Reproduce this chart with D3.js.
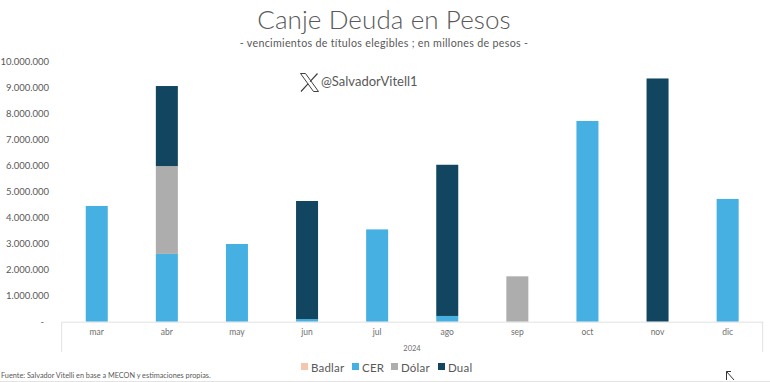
<!DOCTYPE html>
<html>
<head>
<meta charset="utf-8">
<script src="https://cdn.jsdelivr.net/npm/d3@7"></script>
<style>
  html, body { margin: 0; padding: 0; background: #fff; }
  svg { display: block; }
  text { font-family: Lato, sans-serif; }
</style>
</head>
<body>
<div id="chart"></div>
<script>
const months = ['mar', 'abr', 'may', 'jun', 'jul', 'ago', 'sep', 'oct', 'nov', 'dic']
const seriesNames = ['Badlar', 'CER', 'Dólar', 'Dual']
const badlar = [0, 0, 0, 0, 0, 0, 0, 0, 0, 0]
const cer = [4440000, 2600000, 2980000, 100000, 3540000, 220000, 0, 7700000, 0, 4710000]
const dolar = [0, 3370000, 0, 0, 0, 0, 1740000, 0, 0, 0]
const dual = [0, 3070000, 0, 4530000, 0, 5800000, 0, 0, 9330000, 0]
const yTicks = [0, 1000000, 2000000, 3000000, 4000000, 5000000, 6000000, 7000000, 8000000, 9000000, 10000000]
const colors = ['#f4c6ad', '#45b0e1', '#adadad', '#124660']

const width = 770
const height = 382
const svg = d3.select('#chart').append('svg').attr('width', width).attr('height', height)

const x = d3.scaleBand().domain(months).range([61.7, 762.7]).paddingInner(0.686).paddingOuter(0.343)
const y = d3.scaleLinear().domain([0, 10000000]).range([321.7, 61])

const rows = months.map((m, i) => ({ month: m, Badlar: badlar[i], CER: cer[i], 'Dólar': dolar[i], Dual: dual[i] }))
const stacked = d3.stack().keys(seriesNames)(rows)

svg.append('g')
  .selectAll('g')
  .data(stacked)
  .join('g')
  .attr('fill', (d, i) => colors[i])
  .selectAll('rect')
  .data((d) => d)
  .join('rect')
  .attr('x', (d) => x(d.data.month))
  .attr('width', x.bandwidth())
  .attr('y', (d) => y(d[1]))
  .attr('height', (d) => y(d[0]) - y(d[1]))

// y axis, only the labels are visible
const yAxis = svg.append('g')
  .attr('transform', 'translate(49,0)')
  .call(d3.axisLeft(y).tickValues(yTicks).tickSize(0).tickPadding(0)
    .tickFormat((d) => (d === 0 ? '-' : d3.format(',')(d).replace(/,/g, '.'))))
yAxis.select('.domain').remove()
yAxis.selectAll('text').attr('font-size', 9.5).attr('fill', '#595959').style('font-family', 'Lato, sans-serif')
yAxis.select('.tick text').attr('dx', -5)

// x axis with the year level below it
const xAxis = svg.append('g')
  .attr('transform', 'translate(0,321.7)')
  .call(d3.axisBottom(x).tickSize(0).tickPadding(7))
xAxis.select('.domain').attr('stroke', '#e1e1e1').attr('stroke-width', 1)
xAxis.selectAll('text').attr('font-size', 8.5).attr('fill', '#6f6f6f').style('font-family', 'Lato, sans-serif')

svg.append('g')
  .selectAll('line')
  .data(x.range())
  .join('line')
  .attr('x1', (d) => d)
  .attr('x2', (d) => d)
  .attr('y1', 321.7)
  .attr('y2', 352)
  .attr('stroke', '#e1e1e1')

svg.append('text').attr('x', 412).attr('y', 351).attr('text-anchor', 'middle')
  .attr('font-size', 7.5).attr('fill', '#6f6f6f').text('2024')

svg.append('text').attr('x', 384).attr('y', 29).attr('text-anchor', 'middle')
  .attr('font-size', 26).attr('font-weight', 300).attr('letter-spacing', 0.1).attr('fill', '#595959').text('Canje Deuda en Pesos')
svg.append('text').attr('x', 384).attr('y', 47).attr('text-anchor', 'middle')
  .attr('font-size', 10.7).attr('letter-spacing', 0.3).attr('fill', '#595959')
  .text('- vencimientos de títulos elegibles ; en millones de pesos -')

// X logo
const logo = svg.append('g').attr('transform', 'translate(300,73)')
  .attr('fill', 'none').attr('stroke', '#404040')
logo.append('path').attr('stroke-width', 1).attr('d', 'M0.5,0.5 H5.5 L18.5,18.5 H13.5 Z')
logo.append('path').attr('stroke-width', 1.2).attr('d', 'M17.5,0.5 L10,8.7 M8.2,10.6 L1,18.5')
svg.append('text').attr('x', 321).attr('y', 85.5).attr('font-size', 13).attr('fill', '#595959').text('@SalvadorVitell1')

// legend
const legendX = [301, 352, 391, 438]
const legend = svg.append('g')
  .selectAll('g')
  .data(seriesNames)
  .join('g')
  .attr('transform', (d, i) => `translate(${legendX[i]},363)`)
legend.append('rect').attr('width', 7).attr('height', 7).attr('fill', (d, i) => colors[i])
legend.append('text').attr('x', 10).attr('y', 8.5).attr('font-size', 11.5).attr('letter-spacing', 0.2)
  .attr('fill', '#595959').text((d) => d)

svg.append('text').attr('x', 1).attr('y', 378).attr('font-size', 7.3).attr('fill', '#595959')
  .text('Fuente: Salvador Vitelli en base a MECON y estimaciones propias.')

// strip along the bottom and the mouse pointer caught in the capture
svg.append('line').attr('x1', 0).attr('x2', width).attr('y1', 381.5).attr('y2', 381.5).attr('stroke', '#e3e3e3')
svg.append('path').attr('d', 'M726.5,371.5 V380 M726.5,371.5 H731 M726.5,371.5 L734,380')
  .attr('fill', 'none').attr('stroke', '#333').attr('stroke-width', 1)
</script>
</body>
</html>
